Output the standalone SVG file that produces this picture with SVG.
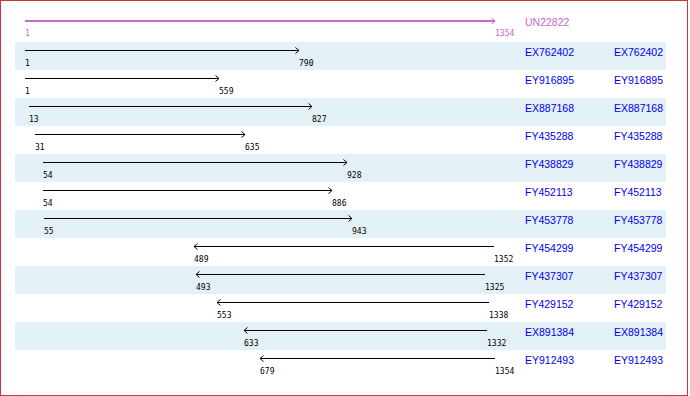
<svg xmlns="http://www.w3.org/2000/svg" width="690" height="396" viewBox="0 0 690 396">
<defs>
<style>
.band{fill:#e3f0f5}
.ln{stroke:#000;stroke-width:1;fill:none;marker-end:url(#ah)}
.q{stroke:#cc66cc;stroke-width:2;fill:none;marker-end:url(#ahm)}
.num{font-family:"DejaVu Sans Mono",monospace;font-size:8px;fill:#000}
.qn{font-family:"DejaVu Sans Mono",monospace;font-size:8px;fill:#cc66cc}
.nm{font-family:"Liberation Sans",Arial,sans-serif;font-size:10.5px;fill:#0000ee}
.qnm{font-family:"Liberation Sans",Arial,sans-serif;font-size:10.5px;fill:#cc66cc}
</style>
<marker id="ah" markerWidth="6" markerHeight="8" refX="4" refY="3.5" orient="auto" markerUnits="userSpaceOnUse">
<path d="M0.5,0.5 L4,3.5 L0.5,6.5" fill="none" stroke="#000" stroke-width="1"/>
</marker>
<marker id="ahm" markerWidth="6" markerHeight="8" refX="4" refY="3.5" orient="auto" markerUnits="userSpaceOnUse">
<path d="M0.5,0.5 L4,3.5 L0.5,6.5" fill="none" stroke="#cc66cc" stroke-width="1"/>
</marker>
</defs>
<rect x="0" y="0" width="690" height="396" fill="#fff"/>
<g id="bands">
<rect class="band" x="15" y="42" width="651" height="28"/>
<rect class="band" x="15" y="98" width="651" height="28"/>
<rect class="band" x="15" y="154" width="651" height="28"/>
<rect class="band" x="15" y="210" width="651" height="28"/>
<rect class="band" x="15" y="266" width="651" height="28"/>
<rect class="band" x="15" y="322" width="651" height="28"/>
</g>
<g id="connectors">
<line class="q" x1="25" y1="21" x2="495" y2="21"/>
<line class="ln" x1="25" y1="50.5" x2="299" y2="50.5"/>
<line class="ln" x1="25" y1="78.5" x2="219" y2="78.5"/>
<line class="ln" x1="29" y1="106.5" x2="312" y2="106.5"/>
<line class="ln" x1="35" y1="134.5" x2="245" y2="134.5"/>
<line class="ln" x1="43" y1="162.5" x2="347" y2="162.5"/>
<line class="ln" x1="43" y1="190.5" x2="332" y2="190.5"/>
<line class="ln" x1="44" y1="218.5" x2="352" y2="218.5"/>
<line class="ln" x1="494" y1="246.5" x2="194" y2="246.5"/>
<line class="ln" x1="485" y1="274.5" x2="196" y2="274.5"/>
<line class="ln" x1="489" y1="302.5" x2="217" y2="302.5"/>
<line class="ln" x1="487" y1="330.5" x2="244" y2="330.5"/>
<line class="ln" x1="495" y1="358.5" x2="260" y2="358.5"/>
</g>
<g id="UN22822">
<text class="qn" x="25" y="36">1</text>
<text class="qn" x="495" y="36">1354</text>
<text class="qnm" x="525" y="26">UN22822</text>
</g>
<g id="EX762402">
<text class="num" x="25" y="66">1</text><text class="num" x="299" y="66">790</text>
<text class="nm" x="525" y="56">EX762402</text><text class="nm" x="614" y="56">EX762402</text>
</g>
<g id="EY916895">
<text class="num" x="25" y="94">1</text><text class="num" x="219" y="94">559</text>
<text class="nm" x="525" y="84">EY916895</text><text class="nm" x="614" y="84">EY916895</text>
</g>
<g id="EX887168">
<text class="num" x="29" y="122">13</text><text class="num" x="312" y="122">827</text>
<text class="nm" x="525" y="112">EX887168</text><text class="nm" x="614" y="112">EX887168</text>
</g>
<g id="FY435288">
<text class="num" x="35" y="150">31</text><text class="num" x="245" y="150">635</text>
<text class="nm" x="525" y="140">FY435288</text><text class="nm" x="614" y="140">FY435288</text>
</g>
<g id="FY438829">
<text class="num" x="43" y="178">54</text><text class="num" x="347" y="178">928</text>
<text class="nm" x="525" y="168">FY438829</text><text class="nm" x="614" y="168">FY438829</text>
</g>
<g id="FY452113">
<text class="num" x="43" y="206">54</text><text class="num" x="332" y="206">886</text>
<text class="nm" x="525" y="196">FY452113</text><text class="nm" x="614" y="196">FY452113</text>
</g>
<g id="FY453778">
<text class="num" x="44" y="234">55</text><text class="num" x="352" y="234">943</text>
<text class="nm" x="525" y="224">FY453778</text><text class="nm" x="614" y="224">FY453778</text>
</g>
<g id="FY454299">
<text class="num" x="194" y="262">489</text><text class="num" x="494" y="262">1352</text>
<text class="nm" x="525" y="252">FY454299</text><text class="nm" x="614" y="252">FY454299</text>
</g>
<g id="FY437307">
<text class="num" x="196" y="290">493</text><text class="num" x="485" y="290">1325</text>
<text class="nm" x="525" y="280">FY437307</text><text class="nm" x="614" y="280">FY437307</text>
</g>
<g id="FY429152">
<text class="num" x="217" y="318">553</text><text class="num" x="489" y="318">1338</text>
<text class="nm" x="525" y="308">FY429152</text><text class="nm" x="614" y="308">FY429152</text>
</g>
<g id="EX891384">
<text class="num" x="244" y="346">633</text><text class="num" x="487" y="346">1332</text>
<text class="nm" x="525" y="336">EX891384</text><text class="nm" x="614" y="336">EX891384</text>
</g>
<g id="EY912493">
<text class="num" x="260" y="374">679</text><text class="num" x="495" y="374">1354</text>
<text class="nm" x="525" y="364">EY912493</text><text class="nm" x="614" y="364">EY912493</text>
</g>
<rect x="0.5" y="0.5" width="687" height="395" fill="none" stroke="#c43a3a" stroke-width="1"/>
</svg>
